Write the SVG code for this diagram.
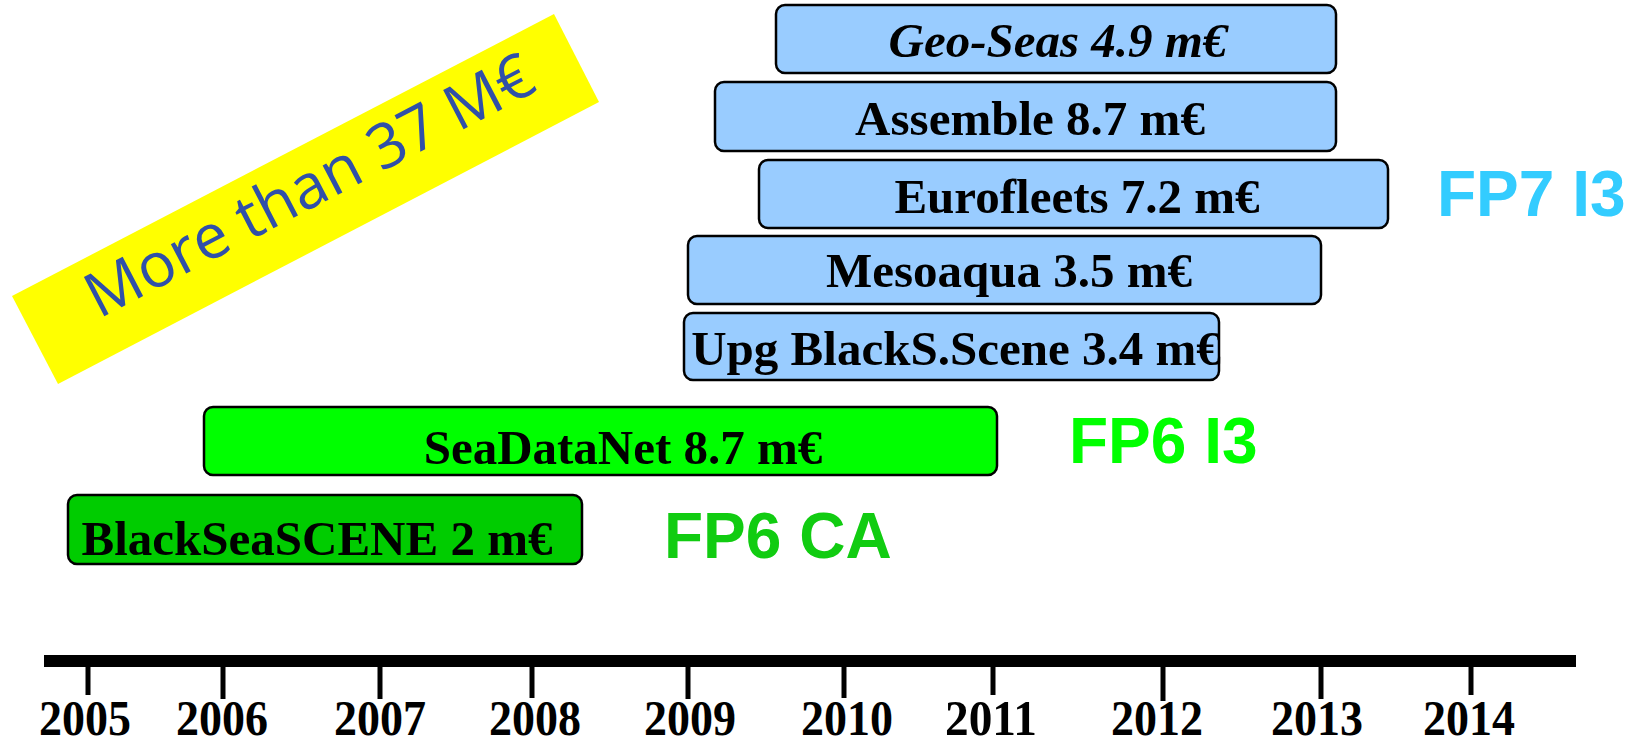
<svg xmlns="http://www.w3.org/2000/svg" width="1635" height="739" viewBox="0 0 1635 739">
<style>
.box{stroke:#000;stroke-width:2.5}
.fp7{fill:#99ccff}
.lbl{font-family:"Liberation Serif","Times New Roman",serif;font-weight:bold;font-size:49px;fill:#000;text-anchor:middle}
.yr{font-family:"Liberation Serif","Times New Roman",serif;font-weight:bold;font-size:50px;fill:#000;text-anchor:middle}
.fp{font-family:"Liberation Sans",Arial,sans-serif;font-weight:bold;font-size:64px}
.tick{stroke:#000;stroke-width:5}
</style>
<rect width="1635" height="739" fill="#fff"/>
<g id="banner">
<polygon points="12,296 554,14 599,102 58,384" fill="#ffff00"/>
<text x="309" y="207" transform="rotate(-27.5 309 185)" font-family="'Open Sans','Noto Sans',sans-serif" font-size="62" fill="#3050a8" text-anchor="middle">More than 37 M€</text>
</g>
<g id="geoseas">
<rect class="box fp7" x="776" y="5" width="560" height="68" rx="9"/>
<text class="lbl" x="1058" y="57" font-style="italic">Geo-Seas 4.9 m€</text>
</g>
<g id="assemble">
<rect class="box fp7" x="715" y="82" width="621" height="69" rx="9"/>
<text class="lbl" x="1030" y="135">Assemble 8.7 m€</text>
</g>
<g id="eurofleets">
<rect class="box fp7" x="759" y="160" width="629" height="68" rx="9"/>
<text class="lbl" x="1077" y="213">Eurofleets 7.2 m€</text>
</g>
<g id="mesoaqua">
<rect class="box fp7" x="688" y="236" width="633" height="68" rx="9"/>
<text class="lbl" x="1009" y="287">Mesoaqua 3.5 m€</text>
</g>
<g id="upgblackscene">
<rect class="box fp7" x="684" y="313" width="535" height="67" rx="9"/>
<text class="lbl" x="956" y="365">Upg BlackS.Scene 3.4 m€</text>
</g>
<g id="seadatanet">
<rect class="box" fill="#00ff00" x="204" y="407" width="793" height="68" rx="9"/>
<text class="lbl" x="623" y="464">SeaDataNet 8.7 m€</text>
</g>
<g id="blackseascene">
<rect class="box" fill="#00cc00" x="68" y="495" width="514" height="69" rx="9"/>
<text class="lbl" x="317" y="555">BlackSeaSCENE 2 m€</text>
</g>
<g id="fp7i3"><text class="fp" x="1437" y="216" fill="#33ccff">FP7 I3</text></g>
<g id="fp6i3"><text class="fp" x="1069" y="463" fill="#00ff00">FP6 I3</text></g>
<g id="fp6ca"><text class="fp" x="664" y="558" fill="#11cc11">FP6 CA</text></g>
<g id="connectors">
<rect x="44" y="655" width="1532" height="12" fill="#000"/>
<line class="tick" x1="88" y1="667" x2="88" y2="695"/>
<line class="tick" x1="223" y1="667" x2="223" y2="699"/>
<line class="tick" x1="380" y1="667" x2="380" y2="699"/>
<line class="tick" x1="532" y1="667" x2="532" y2="698"/>
<line class="tick" x1="688" y1="667" x2="688" y2="699"/>
<line class="tick" x1="844" y1="667" x2="844" y2="698"/>
<line class="tick" x1="993" y1="667" x2="993" y2="695"/>
<line class="tick" x1="1163" y1="667" x2="1163" y2="701"/>
<line class="tick" x1="1321" y1="667" x2="1321" y2="699"/>
<line class="tick" x1="1471" y1="667" x2="1471" y2="695"/>
</g>
<g id="years">
<text class="yr" x="85" y="735" textLength="92" lengthAdjust="spacingAndGlyphs">2005</text>
<text class="yr" x="222" y="735" textLength="92" lengthAdjust="spacingAndGlyphs">2006</text>
<text class="yr" x="380" y="735" textLength="92" lengthAdjust="spacingAndGlyphs">2007</text>
<text class="yr" x="535" y="735" textLength="92" lengthAdjust="spacingAndGlyphs">2008</text>
<text class="yr" x="690" y="735" textLength="92" lengthAdjust="spacingAndGlyphs">2009</text>
<text class="yr" x="847" y="735" textLength="92" lengthAdjust="spacingAndGlyphs">2010</text>
<text class="yr" x="991" y="735" textLength="92" lengthAdjust="spacingAndGlyphs">2011</text>
<text class="yr" x="1157" y="735" textLength="92" lengthAdjust="spacingAndGlyphs">2012</text>
<text class="yr" x="1317" y="735" textLength="92" lengthAdjust="spacingAndGlyphs">2013</text>
<text class="yr" x="1469" y="735" textLength="92" lengthAdjust="spacingAndGlyphs">2014</text>
</g>
</svg>
